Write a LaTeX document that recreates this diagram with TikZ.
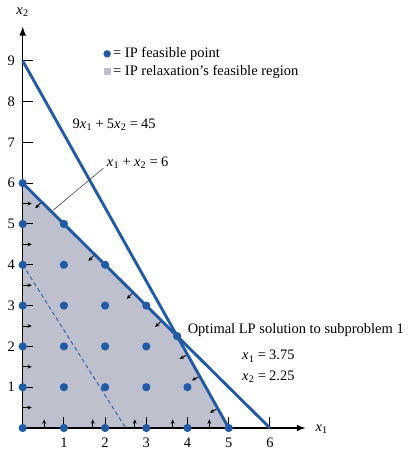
\documentclass[tikz,border=0pt]{standalone}
\usepackage{fontspec}
\setmainfont{Liberation Serif}
\usetikzlibrary{arrows.meta}
\definecolor{lpblue}{RGB}{33,90,165}
\definecolor{regiongray}{RGB}{191,192,206}
\newcommand\xv[1]{\textit{x}\kern0.2pt\textsubscript{#1}}
\newcommand\eqs{\kern2.2pt=\kern2.2pt}
\newcommand\pls{\kern2.2pt+\kern2.2pt}
\begin{document}
\begin{tikzpicture}[x=1cm,y=0.9903cm,
  font=\fontsize{10}{12}\selectfont,
  cline/.style={lpblue,line width=2pt},
  axisline/.style={line width=1.1pt,-{Latex[length=6.5pt,width=4.6pt]}},
  tickmark/.style={line width=0.7pt},
  dirarrow/.style={line width=0.6pt,-{Stealth[length=3pt,width=2.6pt]}},
  ipdot/.style={circle,fill=lpblue,inner sep=0pt,minimum size=0.2cm},
  lbl/.style={inner sep=0pt}]
\useasboundingbox (-0.551cm,-0.510cm) rectangle (9.401cm,10.388cm);

% relaxation region
\fill[regiongray] (0,0) -- (5,0) -- (3.75,2.25) -- (0,6) -- cycle;

% dashed objective line
\coordinate (d1) at (0,4);
\coordinate (d2) at (2.5,0);
\draw[lpblue,line width=0.6pt,dash pattern=on 2.8pt off 2pt] (d1) -- (d2);

% feasibility direction arrows
\foreach \y in {0.5,1.5,2.5,3.5,4.5,5.5}
  \draw[dirarrow] (0,\y) -- ++(0.22,0);
\foreach \x in {0.52,1.70,2.72,3.64,4.53}
  \draw[dirarrow] (\x,0) -- ++(0,0.21);
\foreach \a in {0.46,1.75,2.68,3.37}
  \draw[dirarrow] (\a,{6-\a}) -- ++(-0.155,-0.155);
\foreach \b in {1.80,1.27,0.48}
  \draw[dirarrow] ({(45-5*\b)/9},\b) -- ++(-0.19,-0.106);

% axes
\coordinate (O) at (0,0);
\coordinate (xend) at (6.88,0);
\coordinate (yend) at (0,9.85);
\draw[axisline] (O) -- (xend);
\draw[axisline] (O) -- (yend);
\foreach \i in {1,...,9}{
  \draw[tickmark] (0,\i) -- ++(0.24,0);
  \node[lbl] (ty\i) at (-0.28,\i) {\i};
}
\foreach \i in {1,...,6}{
  \draw[tickmark] (\i,0) -- ++(0,0.26);
  \node[lbl] (tx\i) at (\i,-0.37) {\i};
}
\node[lbl,anchor=west] (xlab) at (7.10,-0.02) {\xv1};
\node[lbl] (ylab) at (0,10.2) {\xv2};

% constraint lines
\coordinate (A9) at (0,9);
\coordinate (B5) at (5,0);
\coordinate (A6) at (0,6);
\coordinate (B6) at (6,0);
\draw[cline] (A9) -- (B5);
\draw[cline] (A6) -- (B6);

% IP feasible points
\foreach \x/\ymax in {0/6,1/5,2/4,3/3,4/1,5/0}
  \foreach \y in {0,...,\ymax}
    \node[ipdot] (p\x\y) at (\x,\y) {};
\node[ipdot] (opt) at (3.75,2.25) {};

% line labels
\node[lbl] (l45) at (2.22,7.43) {9\xv1\pls5\xv2\eqs45};
\node[lbl] (l6) at (2.79,6.50) {\xv1\pls\xv2\eqs6};
\coordinate (ld1) at (1.96,6.37);
\coordinate (ld2) at (0.74,5.34);
\draw[line width=0.4pt,black!75] (ld1) -- (ld2);

% optimal solution text
\node[lbl,anchor=west] (optt) at (4.0,2.39) {Optimal LP solution to subproblem 1};
\node[lbl,anchor=west] (ox1) at (5.32,1.76) {\xv1\eqs3.75};
\node[lbl,anchor=west] (ox2) at (5.32,1.26) {\xv2\eqs2.25};

% legend
\node[ipdot,minimum size=0.18cm] (legdot) at (2.05,9.17) {};
\node[lbl,anchor=west] (legt1) at (2.19,9.17) {= IP feasible point};
\node[fill=regiongray,inner sep=0pt,minimum size=0.17cm] (legsq) at (2.05,8.73) {};
\node[lbl,anchor=west] (legt2) at (2.19,8.73) {= IP relaxation’s feasible region};
\end{tikzpicture}
\end{document}
